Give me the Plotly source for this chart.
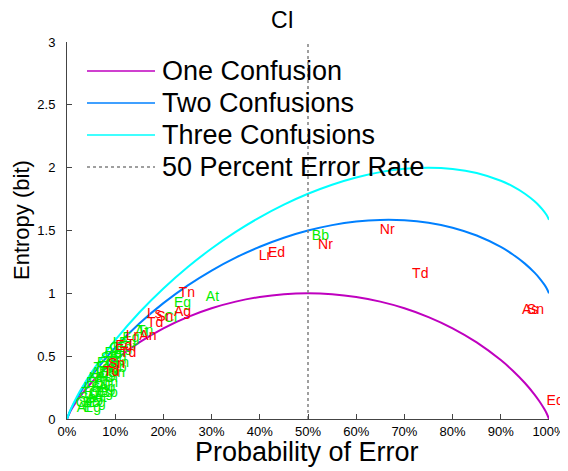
import plotly.graph_objects as go

# Probability of error sample points
p_vals = [0, 0.005, 0.01, 0.02, 0.03, 0.05, 0.075, 0.1, 0.15, 0.2, 0.25, 0.3, 0.35, 0.4,
          0.45, 0.5, 0.55, 0.6, 0.65, 0.7, 0.75, 0.8, 0.85, 0.9, 0.925, 0.95, 0.97, 0.98,
          0.99, 0.995, 1.0]
one_conf = [0, 0.0454, 0.0808, 0.1414, 0.1944, 0.2864, 0.3843, 0.4690, 0.6098, 0.7219,
            0.8113, 0.8813, 0.9341, 0.9710, 0.9928, 1.0, 0.9928, 0.9710, 0.9341, 0.8813,
            0.8113, 0.7219, 0.6098, 0.4690, 0.3843, 0.2864, 0.1944, 0.1414, 0.0808, 0.0454, 0]
two_conf = [0, 0.0504, 0.0908, 0.1614, 0.2244, 0.3364, 0.4593, 0.5690, 0.7598, 0.9219,
            1.0613, 1.1813, 1.2841, 1.3710, 1.4428, 1.5, 1.5428, 1.5710, 1.5841, 1.5813,
            1.5613, 1.5219, 1.4598, 1.3690, 1.3093, 1.2364, 1.1644, 1.1214, 1.0708, 1.0404, 1.0]
three_conf = [0, 0.0533, 0.0967, 0.1731, 0.2420, 0.3657, 0.5032, 0.6275, 0.8476, 1.0389,
              1.2076, 1.3568, 1.4889, 1.6050, 1.7061, 1.7925, 1.8646, 1.9220, 1.9644, 1.9908,
              2.0001, 1.9899, 1.9571, 1.8955, 1.8504, 1.7922, 1.7319, 1.6947, 1.6500, 1.6225, 1.585]

series_names = ["One Confusion", "Two Confusions", "Three Confusions", "50 Percent Error Rate"]

# Red labels
red_names = ["Nr", "Td", "As", "Sn", "Ed", "Lr", "Ed", "Nr", "Tn", "Ag", "Ls", "Td", "Sn",
             "An", "Lr", "Td", "Ed", "Td", "Sn"]
red_p = [0.649, 0.716, 0.944, 0.954, 0.995, 0.398, 0.417, 0.521, 0.232, 0.222, 0.166, 0.166,
         0.185, 0.150, 0.122, 0.110, 0.100, 0.075, 0.085]
red_h = [1.50, 1.146, 0.86, 0.86, 0.143, 1.29, 1.32, 1.38, 1.00, 0.85, 0.83, 0.76, 0.81,
         0.66, 0.66, 0.52, 0.58, 0.37, 0.43]

# Green labels
green_names = ["At", "Eg", "Cl", "Bb", "Eg", "Sn", "Ag", "At", "Tn", "Cl", "Eg", "Bb",
               "Lr", "Sn", "Ag", "Ed", "Eg", "Tn", "Nr", "Bb", "Cl", "At", "Eg", "Sn",
               "Td", "Ag", "Bb", "Eg", "Cl", "Tn", "Sn", "Eg", "Bb", "At", "Cl", "Eg",
               "Ls", "Eg", "Eg", "At", "Tn", "Cl", "Eg", "At", "Bb"]
green_p = [0.020, 0.035, 0.018, 0.032, 0.045, 0.025, 0.040, 0.055, 0.030, 0.045, 0.060, 0.070,
           0.035, 0.050, 0.065, 0.040, 0.055, 0.072, 0.045, 0.060, 0.078, 0.050, 0.066, 0.085,
           0.055, 0.072, 0.088, 0.062, 0.080, 0.095, 0.070, 0.088, 0.078, 0.095, 0.088, 0.100,
           0.095, 0.108, 0.115, 0.141, 0.145, 0.201, 0.222, 0.288, 0.508]
green_h = [0.08, 0.08, 0.12, 0.12, 0.12, 0.16, 0.16, 0.16, 0.20, 0.20, 0.20, 0.20,
           0.24, 0.24, 0.24, 0.28, 0.28, 0.28, 0.32, 0.32, 0.32, 0.36, 0.36, 0.36,
           0.40, 0.40, 0.40, 0.44, 0.44, 0.44, 0.48, 0.48, 0.52, 0.52, 0.56, 0.56,
           0.60, 0.60, 0.64, 0.69, 0.70, 0.80, 0.92, 0.97, 1.45]

FONT = "Liberation Sans, Arial, sans-serif"
OFF = 8  # the page body has an 8px margin
W, H = 568 - OFF, 471 - OFF
# plot area in screen pixels: x 67..549, y 42..419
ML = 67 - OFF
MT = 42 - OFF
MR = W - (549 - OFF)
MB = H - (419 - OFF)
PW, PH = W - ML - MR, H - MT - MB

line_styles = [dict(color="#bf00bf", width=2), dict(color="#0080ff", width=2),
               dict(color="#00ffff", width=2), dict(color="#808080", width=1.5, dash="dot")]

fig = go.Figure()
for name, ys, st in zip(series_names[:3], [one_conf, two_conf, three_conf], line_styles[:3]):
    fig.add_trace(go.Scatter(x=p_vals, y=ys, mode="lines", name=name, showlegend=False,
                             line=dict(shape="spline", **st)))
fig.add_trace(go.Scatter(x=[0.5, 0.5], y=[0, 3], mode="lines", name=series_names[3],
                         showlegend=False, line=line_styles[3]))
fig.add_trace(go.Scatter(x=green_p, y=green_h, mode="text", text=green_names,
                         textposition="middle right", showlegend=False, cliponaxis=False,
                         textfont=dict(color="#00ee00", size=14, family=FONT)))
fig.add_trace(go.Scatter(x=red_p, y=red_h, mode="text", text=red_names,
                         textposition="middle right", showlegend=False, cliponaxis=False,
                         textfont=dict(color="#ff0000", size=14, family=FONT)))


def px_x(sx):
    # screen x pixel -> paper coordinate
    return (sx - OFF - ML) / PW


def px_y(sy):
    # screen y pixel -> paper coordinate
    return (H - MB - (sy - OFF)) / PH


shapes = []
annotations = []
# manual legend (MATLAB-style, no box)
for i, (name, st) in enumerate(zip(series_names, line_styles)):
    yy = 71 + i * 32
    shapes.append(dict(type="line", xref="paper", yref="paper", x0=px_x(87), x1=px_x(155),
                       y0=px_y(yy), y1=px_y(yy), line=dict(**{**st, "width": 1.5})))
    annotations.append(dict(text=name, xref="paper", yref="paper", x=px_x(160), y=px_y(yy),
                            xanchor="left", yanchor="middle", showarrow=False,
                            font=dict(size=27, family=FONT, color="black")))

# title and axis titles
annotations.append(dict(text="CI", xref="paper", yref="paper", x=px_x(282), y=px_y(20),
                        xanchor="center", yanchor="middle", showarrow=False,
                        font=dict(size=23, family=FONT, color="black")))
annotations.append(dict(text="Probability of Error", xref="paper", yref="paper",
                        x=px_x(307), y=px_y(452), xanchor="center", yanchor="middle",
                        showarrow=False, font=dict(size=27, family=FONT, color="black")))
annotations.append(dict(text="Entropy (bit)", xref="paper", yref="paper", textangle=-90,
                        x=px_x(21), y=px_y(220), xanchor="center", yanchor="middle",
                        showarrow=False, font=dict(size=22, family=FONT, color="black")))

fig.update_layout(
    width=W, height=H,
    margin=dict(l=ML, r=MR, t=MT, b=MB),
    paper_bgcolor="white", plot_bgcolor="white",
    font=dict(family=FONT, color="black"),
    showlegend=False,
    shapes=shapes, annotations=annotations,
    xaxis=dict(range=[0, 1], tickvals=[i / 10 for i in range(11)], tickformat=".0%",
               ticks="inside", ticklen=5, tickcolor="#444", showline=True, linecolor="#444",
               linewidth=1, mirror=False, showgrid=False, zeroline=False, automargin=False,
               tickfont=dict(size=13, family=FONT)),
    yaxis=dict(range=[0, 3], tickvals=[0, 0.5, 1, 1.5, 2, 2.5, 3],
               ticktext=["0", "0.5", "1", "1.5", "2", "2.5", "3"],
               ticks="inside", ticklen=5, tickcolor="#444", showline=True, linecolor="#444",
               linewidth=1, mirror=False, showgrid=False, zeroline=False, automargin=False,
               ticklabelstandoff=8, tickfont=dict(size=13, family=FONT)),
)

fig.write_html("out.html")
